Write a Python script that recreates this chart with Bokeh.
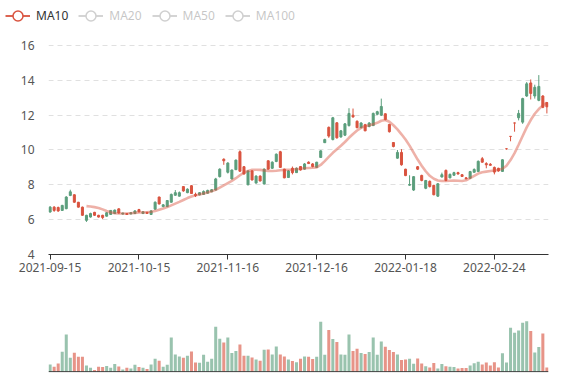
import math
from bokeh.plotting import figure
from bokeh.models import (ColumnDataSource, Range1d, FixedTicker, Legend, LegendItem, Span)
from bokeh.layouts import column
from bokeh.embed import file_html
from bokeh.resources import INLINE

# ---------------- data ----------------
tick_index = [0, 22, 44, 66, 88, 110]
tick_labels = ["2021-09-15", "2021-10-15", "2021-11-16", "2021-12-16", "2022-01-18", "2022-02-24"]

open_ = [6.72, 6.53, 6.50, 6.82, 7.30, 7.60, 7.00, 6.72, 6.25, 6.25,
         6.35, 6.25, 6.15, 6.12, 6.40, 6.53, 6.55, 6.38, 6.38, 6.30,
         6.40, 6.50, 6.45, 6.45, 6.36, 6.50, 7.00, 6.90, 6.85, 7.10,
         7.45, 7.55, 7.55, 7.65, 7.75, 7.50, 7.38, 7.55, 7.62, 7.68,
         7.72, 8.34, 8.90, 9.38, 9.25, 8.85, 9.42, 8.78, 8.62, 8.80,
         8.28, 8.50, 8.22, 8.90, 8.90, 9.30, 9.76, 9.00, 8.40, 8.80,
         8.70, 8.95, 8.85, 9.20, 9.22, 9.05, 9.30, 9.95, 10.60, 10.80,
         11.85, 10.70, 11.10, 11.50, 12.10, 11.90, 11.28, 11.55, 11.10, 11.55,
         12.10, 12.20, 12.50, 11.75, 11.05, 10.20, 9.86, 9.15, 8.53, 8.02,
         8.47, 8.90, 8.25, 8.25, 7.90, 7.43, 8.06, 8.58, 8.25, 8.60,
         8.70, 8.62, 8.48, 8.35, 8.76, 8.88, 9.35, 9.30, 9.15, 9.12,
         8.73, 8.80, 9.44, 10.07, 10.78, 11.55, 12.10, 12.95, 13.80, 13.25,
         13.60, 13.65, 12.45, 12.48]
close = [6.44, 6.72, 6.70, 6.53, 6.63, 7.39, 7.43, 7.00, 6.72, 5.96,
         6.15, 6.42, 6.25, 6.25, 6.20, 6.30, 6.35, 6.62, 6.32, 6.35,
         6.33, 6.35, 6.58, 6.35, 6.42, 6.30, 6.60, 7.30, 6.75, 6.75,
         7.00, 7.40, 7.35, 7.90, 7.55, 7.95, 7.45, 7.42, 7.45, 7.52,
         7.60, 7.70, 8.47, 9.47, 8.72, 8.34, 8.87, 9.90, 9.04, 8.00,
         8.80, 8.10, 8.50, 8.05, 9.38, 8.95, 9.34, 9.90, 8.90, 8.42,
         8.95, 8.70, 9.05, 8.90, 9.30, 9.20, 9.00, 9.57, 10.42, 11.30,
         10.60, 11.56, 10.75, 10.85, 11.40, 12.00, 11.65, 11.28, 11.45, 11.35,
         11.40, 12.05, 12.00, 12.08, 11.47, 10.43, 9.53, 9.86, 8.90, 7.98,
         7.70, 9.04, 8.54, 7.80, 8.20, 7.97, 7.35, 8.45, 8.83, 8.40,
         8.55, 8.70, 8.58, 8.40, 8.38, 8.72, 8.77, 9.50, 9.22, 9.18,
         9.00, 8.95, 8.77, 10.07, 10.78, 11.55, 11.85, 11.60, 13.10, 13.85,
         13.10, 12.85, 13.10, 12.72]
high = [6.78, 6.78, 6.75, 6.85, 7.35, 7.72, 7.45, 7.02, 6.75, 6.28,
        6.40, 6.45, 6.28, 6.28, 6.42, 6.55, 6.58, 6.65, 6.40, 6.38,
        6.42, 6.55, 6.62, 6.48, 6.45, 6.55, 7.05, 7.32, 6.90, 7.12,
        7.50, 7.70, 7.62, 7.92, 7.80, 7.98, 7.55, 7.58, 7.68, 7.72,
        7.75, 8.40, 8.95, 9.52, 9.30, 8.88, 9.45, 9.98, 9.08, 8.82,
        8.85, 8.55, 8.55, 8.95, 9.40, 9.35, 9.80, 9.95, 8.92, 8.85,
        9.05, 9.00, 9.08, 9.25, 9.35, 9.25, 9.32, 9.98, 10.65, 11.35,
        11.90, 11.60, 11.15, 11.55, 12.40, 12.38, 11.70, 11.60, 11.50, 11.60,
        12.15, 12.25, 12.95, 12.10, 11.50, 10.45, 10.00, 10.05, 8.92, 8.55,
        8.50, 9.08, 8.58, 8.28, 8.25, 8.00, 8.10, 8.70, 8.88, 8.65,
        8.75, 8.75, 8.62, 8.45, 8.80, 8.95, 9.40, 9.60, 9.30, 9.25,
        9.05, 8.98, 9.47, 10.08, 10.80, 11.57, 12.30, 13.00, 13.90, 14.05,
        13.75, 14.30, 13.15, 12.75]
low = [6.40, 6.45, 6.45, 6.50, 6.60, 7.35, 6.98, 6.70, 6.22, 5.87,
       6.12, 6.22, 6.12, 6.03, 6.18, 6.28, 6.33, 6.35, 6.30, 6.28,
       6.30, 6.33, 6.42, 6.33, 6.33, 6.28, 6.58, 6.88, 6.72, 6.72,
       6.98, 7.38, 7.33, 7.60, 7.52, 7.48, 7.30, 7.40, 7.43, 7.50,
       7.58, 7.68, 8.42, 9.15, 8.65, 8.30, 8.85, 8.75, 8.60, 7.98,
       8.25, 8.08, 8.20, 8.02, 8.88, 8.92, 9.30, 8.98, 8.38, 8.40,
       8.60, 8.68, 8.82, 8.88, 9.20, 9.00, 8.98, 9.55, 10.40, 10.70,
       10.55, 10.65, 10.70, 10.80, 11.35, 11.85, 11.25, 11.25, 11.08, 11.30,
       11.38, 12.00, 11.95, 11.70, 11.00, 10.15, 9.50, 9.10, 8.50, 7.95,
       7.65, 8.85, 8.20, 7.75, 7.85, 7.40, 7.30, 8.42, 8.20, 8.38,
       8.52, 8.60, 8.45, 8.32, 8.35, 8.70, 8.75, 9.28, 8.95, 9.10,
       8.60, 8.75, 8.75, 10.02, 10.50, 11.05, 11.70, 11.50, 13.05, 12.90,
       12.95, 12.80, 12.40, 12.10]
volume = [7.3, 5.0, 8.3, 20.0, 37.3, 14.0, 19.0, 15.0, 15.0, 6.3,
          4.0, 1.7, 5.0, 4.7, 5.7, 4.0, 7.7, 5.3, 2.3, 4.0,
          3.3, 7.0, 4.7, 4.0, 2.7, 7.3, 13.0, 11.0, 5.0, 7.0,
          34.3, 17.3, 15.3, 14.0, 16.0, 20.3, 9.3, 9.0, 17.0, 10.0,
          13.0, 45.0, 33.0, 29.3, 34.3, 18.7, 20.7, 27.3, 16.0, 16.0,
          14.3, 12.3, 11.0, 22.0, 22.3, 17.3, 25.3, 17.3, 15.3, 12.3,
          10.7, 9.5, 13.0, 15.3, 15.0, 12.7, 15.0, 50.0, 17.0, 41.7,
          32.7, 29.7, 17.3, 17.0, 37.3, 20.7, 23.0, 18.7, 17.7, 19.7,
          34.3, 17.0, 30.3, 25.0, 21.7, 19.7, 17.3, 11.7, 12.3, 13.0,
          8.0, 13.3, 8.3, 5.5, 4.3, 8.7, 3.3, 7.8, 5.5, 5.0,
          4.8, 3.3, 3.8, 3.8, 6.2, 8.5, 10.0, 7.3, 9.3, 6.2,
          9.5, 4.3, 18.5, 9.3, 44.0, 39.0, 41.3, 49.0, 50.5, 40.8,
          19.2, 24.7, 38.3, 4.2]
ma10 = [None] * 9 + [
    6.78, 6.76, 6.72, 6.67, 6.59, 6.50, 6.42, 6.37, 6.35, 6.35,
    6.35, 6.37, 6.39, 6.41, 6.42, 6.43, 6.45, 6.50, 6.57, 6.64,
    6.72, 6.82, 6.92, 7.02, 7.13, 7.24, 7.33, 7.40, 7.45, 7.50,
    7.56, 7.63, 7.71, 7.84, 7.97, 8.10, 8.23, 8.38, 8.55, 8.70,
    8.80, 8.86, 8.87, 8.86, 8.83, 8.80, 8.79, 8.81, 8.84, 8.86,
    8.87, 8.88, 8.90, 8.92, 8.95, 8.97, 8.98, 9.00, 9.14, 9.36,
    9.60, 9.84, 10.04, 10.24, 10.46, 10.70, 10.92, 11.12, 11.27, 11.37,
    11.42, 11.48, 11.56, 11.68, 11.72, 11.62, 11.42, 11.18, 10.90, 10.60,
    10.25, 9.85, 9.45, 9.10, 8.78, 8.52, 8.35, 8.25, 8.22, 8.22,
    8.23, 8.24, 8.23, 8.22, 8.26, 8.38, 8.52, 8.65, 8.72, 8.76,
    8.79, 8.82, 8.85, 8.92, 9.10, 9.42, 9.82, 10.30, 10.80, 11.30,
    11.72, 12.08, 12.35, 12.56, 12.72]
legend_names = ["MA10", "MA20", "MA50", "MA100"]

# ---------------- styling ----------------
FONT = "Noto Sans"
RED = "#d9533f"
GREEN = "#5b9e7c"

n = len(open_)
xs = list(range(n))
candle_color = []
for i in range(n):
    if close[i] > open_[i]:
        up = True
    elif close[i] < open_[i]:
        up = False
    else:
        up = (i == 0) or (close[i - 1] <= close[i])
    candle_color.append(RED if up else GREEN)
vol_color = [RED if close[i] > open_[i] else GREEN for i in range(n)]

src = ColumnDataSource(dict(
    x=xs, open=open_, close=close, high=high, low=low,
    top=[max(o, c) for o, c in zip(open_, close)],
    bottom=[min(o, c) for o, c in zip(open_, close)],
    color=candle_color, vol=volume, vcolor=vol_color,
    ma=[float("nan") if v is None else v for v in ma10],
))

xr = Range1d(-0.4, n - 1 + 0.4)

# ---------------- legend strip ----------------
lg = figure(frame_width=577, frame_height=30, x_range=Range1d(0, 1), y_range=Range1d(0, 1),
            output_backend="svg", toolbar_location=None,
            min_border_left=0, min_border_right=0, min_border_top=0, min_border_bottom=0,
            x_axis_location=None, y_axis_location=None)
lg.outline_line_color = None
lg.grid.visible = False
items = []
for k, name in enumerate(legend_names):
    vis = (k == 0)
    col = RED if vis else "#555555"
    # legend swatches only: the points sit outside the visible range
    lr = lg.line(x=[-5, -4], y=[-5, -4], line_color=col, line_width=1.8)
    sr = lg.scatter(x=[-5], y=[-5], marker="circle", size=10, fill_color="white",
                    line_color=col, line_width=1.5)
    lr.visible = vis
    sr.visible = vis
    items.append(LegendItem(label=name, renderers=[lr, sr]))
legend = Legend(items=items, orientation="horizontal", location=(5, 2.5),
                click_policy="hide", glyph_width=25, glyph_height=25, label_height=25,
                label_standoff=6, spacing=10, padding=0, margin=0,
                border_line_color=None, background_fill_alpha=0,
                inactive_fill_color="white", inactive_fill_alpha=0.72,
                label_text_font=FONT, label_text_font_size="12px", label_text_color="#333333")
lg.add_layout(legend)

# ---------------- price chart ----------------
p = figure(frame_width=500, frame_height=224, x_range=xr, y_range=Range1d(4, 16.861),
           output_backend="svg", toolbar_location=None,
           min_border_left=48, min_border_right=29, min_border_top=0, min_border_bottom=26)
p.outline_line_color = None
p.xgrid.grid_line_color = None
p.ygrid.ticker = FixedTicker(ticks=[4, 6, 8, 10, 12, 14, 16])
p.ygrid.grid_line_color = "#e0e0e0"
p.ygrid.grid_line_dash = "5 4"
p.ygrid.grid_line_width = 1

p.yaxis.ticker = FixedTicker(ticks=[4, 6, 8, 10, 12, 14, 16])
p.yaxis.axis_line_color = None
p.yaxis.major_tick_line_color = None
p.yaxis.minor_tick_line_color = None
p.yaxis.major_label_standoff = 8
p.yaxis.major_label_text_font = FONT
p.yaxis.major_label_text_font_size = "12px"
p.yaxis.major_label_text_color = "#555555"

p.xaxis.ticker = FixedTicker(ticks=tick_index)
p.xaxis.major_label_overrides = {t: lab for t, lab in zip(tick_index, tick_labels)}
p.xaxis.minor_tick_line_color = None
p.xaxis.major_tick_in = 0
p.xaxis.major_tick_out = 5
p.xaxis.axis_line_color = "#333333"
p.xaxis.major_tick_line_color = "#333333"
p.xaxis.major_label_standoff = 3
p.xaxis.major_label_text_font = FONT
p.xaxis.major_label_text_font_size = "12px"
p.xaxis.major_label_text_color = "#555555"

p.segment(x0="x", y0="high", x1="x", y1="low", line_color="color", line_width=1, source=src)
p.vbar(x="x", width=0.5, top="top", bottom="bottom", fill_color="color",
       line_color="color", line_width=1, source=src)
p.line(x="x", y="ma", line_color=RED, line_alpha=0.45, line_width=2.6, source=src)

# ---------------- volume chart ----------------
pv = figure(frame_width=500, frame_height=92, x_range=xr, y_range=Range1d(-0.8, 91.2),
            output_backend="svg", toolbar_location=None,
            min_border_left=48, min_border_right=29, min_border_top=0, min_border_bottom=8,
            x_axis_location=None, y_axis_location=None)
pv.outline_line_color = None
pv.grid.visible = False
pv.vbar(x="x", width=0.75, top="vol", bottom=0, fill_color="vcolor", fill_alpha=0.62,
        line_color=None, source=src)
pv.add_layout(Span(location=0, dimension="width", line_color="#333333", line_width=1))

layout = column(lg, p, pv, spacing=0)
open("out.html", "w").write(file_html(layout, INLINE))
